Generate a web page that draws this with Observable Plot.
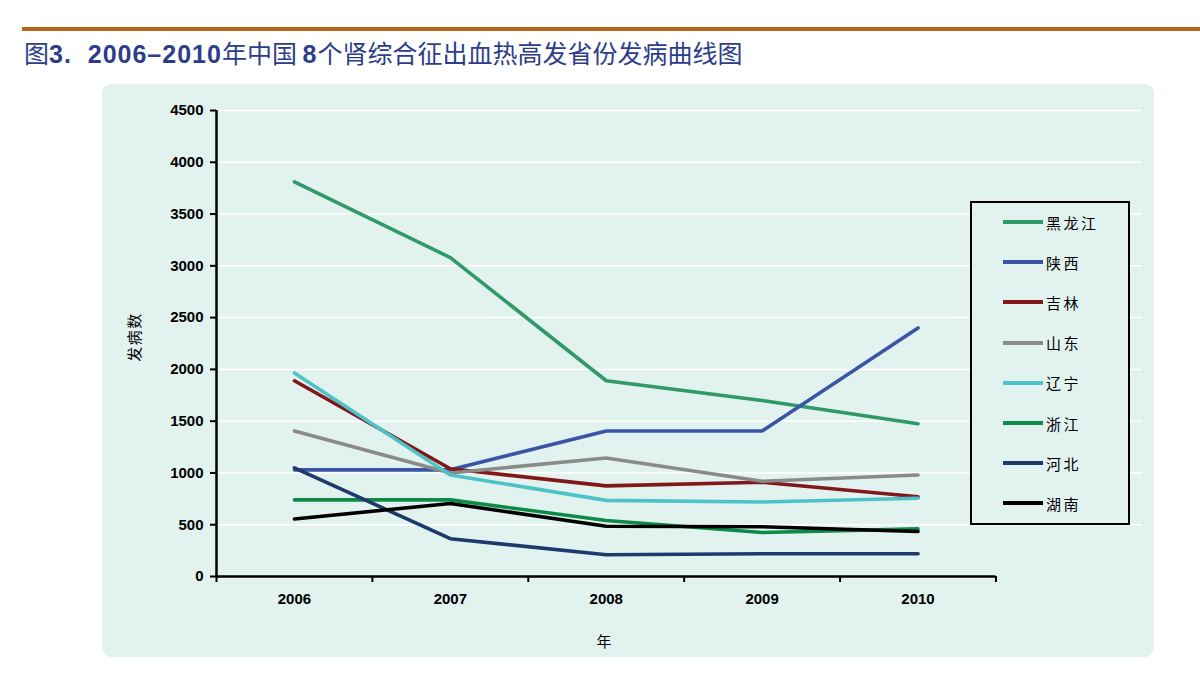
<!DOCTYPE html>
<html>
<head>
<meta charset="utf-8">
<script src="https://cdn.jsdelivr.net/npm/d3@7"></script>
<script src="https://cdn.jsdelivr.net/npm/@observablehq/plot@0.6"></script>
<style>
  html, body { margin: 0; padding: 0; background: #ffffff; }
  body { width: 1200px; height: 683px; position: relative; overflow: hidden; font-family: "Liberation Sans", Arial, "Noto Sans CJK SC", sans-serif; }
  #bar { position: absolute; left: 22px; right: 0; top: 27px; height: 4px; background: #b8651f; }
  #title { position: absolute; left: 24px; top: 37px; font-size: 25px; color: #2d3d8b; white-space: nowrap; line-height: 30px; }
  #title .cjk { font-family: "Noto Sans CJK SC", sans-serif; font-weight: 400; font-size: 25px; }
  #title .num { font-family: "Liberation Sans", Arial, sans-serif; font-weight: bold; font-size: 25px; letter-spacing: 1px; }
  #panel { position: absolute; left: 102px; top: 84px; width: 1052px; height: 573px; background: #e1f2ef; border-radius: 9px; }
  #chart { position: absolute; left: 0; top: 0; }
  #ylabel { position: absolute; left: 133px; top: 337px; transform: translate(-50%, -50%) rotate(-90deg); font-family: "Noto Sans CJK SC", sans-serif; font-size: 15px; letter-spacing: 1.5px; color: #000; white-space: nowrap; }
  #xlabel { position: absolute; left: 604px; top: 640px; transform: translate(-50%, -50%); font-family: "Noto Sans CJK SC", sans-serif; font-size: 15px; color: #000; }
  #legend { position: absolute; left: 970px; top: 201px; width: 156px; height: 320px; border: 2px solid #000; background: #e1f2ef; }
  .item { position: absolute; left: 0; height: 20px; display: flex; align-items: center; }
  .sw { width: 40px; height: 4px; margin-left: 31px; }
  .lab { margin-left: 3px; font-family: "Noto Sans CJK SC", sans-serif; font-size: 15px; letter-spacing: 2.5px; color: #000; }
</style>
</head>
<body>
<div id="bar"></div>
<div id="title"><span class="cjk">图</span><span class="num">3.&nbsp;&nbsp;2006–2010</span><span class="cjk">年中国 </span><span class="num">8</span><span class="cjk">个肾综合征出血热高发省份发病曲线图</span></div>
<div id="panel"><div id="chart"></div></div>
<div id="ylabel">发病数</div>
<div id="xlabel">年</div>
<div id="legend"></div>
<script>
// ---- data ----
const years = [2006, 2007, 2008, 2009, 2010];
const provinces = ["黑龙江", "陕西", "吉林", "山东", "辽宁", "浙江", "河北", "湖南"];
const heilongjiang = [3810, 3080, 1890, 1700, 1475];
const shaanxi      = [1030, 1030, 1405, 1405, 2400];
const jilin        = [1890, 1040, 875, 910, 770];
const shandong     = [1405, 1000, 1145, 920, 980];
const liaoning     = [1965, 980, 735, 720, 755];
const zhejiang     = [740, 740, 540, 425, 460];
const hebei        = [1050, 365, 210, 220, 220];
const hunan        = [555, 705, 485, 480, 435];
const seriesValues = [heilongjiang, shaanxi, jilin, shandong, liaoning, zhejiang, hebei, hunan];
const colors = ["#2f9a68", "#3b55a6", "#821719", "#8a8a8a", "#4dc3c8", "#0e8a47", "#1e3a6c", "#000000"];
const yTicks = [0, 500, 1000, 1500, 2000, 2500, 3000, 3500, 4000, 4500];
const yearBoundaries = [2005.5, 2006.5, 2007.5, 2008.5, 2009.5, 2010.5];
const plotExtent = [2005.5, 2011.44]; // plot area continues under the legend

const data = provinces.flatMap((p, i) => years.map((yr, j) => ({province: p, year: yr, value: seriesValues[i][j]})));

const chart = Plot.plot({
  width: 1052,
  height: 573,
  marginLeft: 114,
  marginRight: 12,
  marginTop: 26,
  marginBottom: 81,
  style: {background: "transparent", fontFamily: "'Liberation Sans', Arial, sans-serif", fontSize: "15px", fontWeight: "bold", color: "#000", overflow: "visible"},
  x: {domain: plotExtent, axis: null},
  y: {domain: [0, 4500], axis: null},
  color: {domain: provinces, range: colors},
  marks: [
    Plot.ruleY(yTicks.filter(d => d > 0), {stroke: "#ffffff", strokeWidth: 1.5}),
    Plot.axisY(yTicks, {tickSize: 6, tickPadding: 7, strokeWidth: 2, tickFormat: d => String(d), label: null, fill: "#000"}),
    Plot.axisX(yearBoundaries, {tickSize: 6, strokeWidth: 2, tickFormat: () => "", label: null}),
    Plot.axisX(years, {tickSize: 0, tickPadding: 17, tickFormat: d => String(d), label: null, fill: "#000"}),
    Plot.line(data, {x: "year", y: "value", z: "province", stroke: "province", strokeWidth: 3.6, strokeLinejoin: "miter"}),
    Plot.ruleX([yearBoundaries[0]], {y1: yTicks[0], y2: yTicks[yTicks.length - 1], stroke: "#000", strokeWidth: 2.5}),
    Plot.ruleY([0], {x1: yearBoundaries[0], x2: yearBoundaries[yearBoundaries.length - 1], stroke: "#000", strokeWidth: 2.5})
  ]
});
document.getElementById("chart").appendChild(chart);

// ---- legend ----
const legend = document.getElementById("legend");
provinces.forEach((p, i) => {
  const item = document.createElement("div");
  item.className = "item";
  item.style.top = (9 + i * 40.2) + "px";
  const sw = document.createElement("div");
  sw.className = "sw";
  sw.style.background = colors[i];
  const lab = document.createElement("span");
  lab.className = "lab";
  lab.textContent = p;
  item.appendChild(sw);
  item.appendChild(lab);
  legend.appendChild(item);
});
</script>
</body>
</html>
